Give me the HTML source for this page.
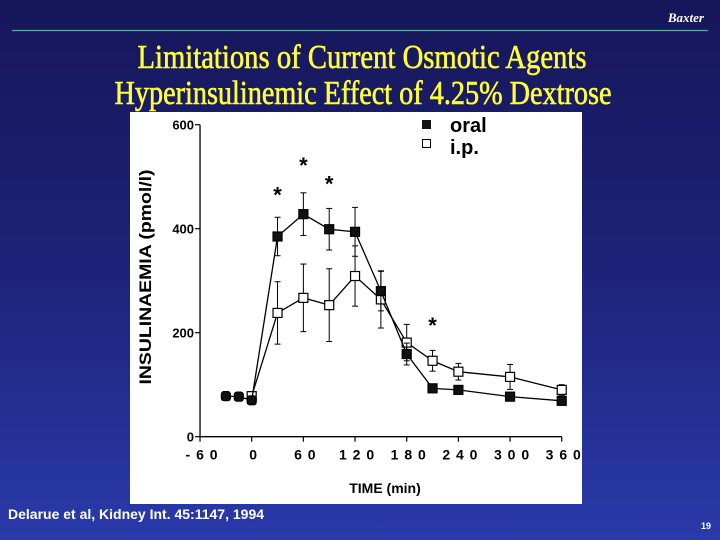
<!DOCTYPE html>
<html><head><meta charset="utf-8"><style>
html,body{margin:0;padding:0;width:720px;height:540px;overflow:hidden}
body{background:linear-gradient(#16165a,#1d2378 50%,#2a3aaa);font-family:"Liberation Sans",sans-serif}
svg{display:block}
</style></head><body>
<svg id="s" width="720" height="540" viewBox="0 0 720 540">
<text x="704" y="22" text-anchor="end" fill="#fff" font-size="13" font-weight="bold" font-style="italic" font-family="Liberation Serif">Baxter</text>
<line x1="12" y1="30.5" x2="708" y2="30.5" stroke="#5fa8a0" stroke-width="1.2"/>
<text x="362" y="68" text-anchor="middle" fill="#ffff33" stroke="#ffff33" stroke-width="0.6" font-size="34" font-family="Liberation Serif" textLength="449" lengthAdjust="spacingAndGlyphs">Limitations of Current Osmotic Agents</text>
<text x="363" y="104" text-anchor="middle" fill="#ffff33" stroke="#ffff33" stroke-width="0.6" font-size="34" font-family="Liberation Serif" textLength="497" lengthAdjust="spacingAndGlyphs">Hyperinsulinemic Effect of 4.25% Dextrose</text>
<rect x="130" y="112" width="452" height="392" fill="#fff"/>
<g id="chart"></g>
<text x="8" y="519" fill="#fff" font-size="14" font-weight="bold">Delarue et al, Kidney Int. 45:1147, 1994</text>
<text x="711" y="529" text-anchor="end" fill="#fff" font-size="9" font-weight="bold">19</text>
</svg>
<script>
const oralX=[-30,-15,0,30,60,90,120,150,180,210,240,300,360];
const oralY=[78,77,70,385,428,399,394,280,159,93,90,77,69];
const oralErr=[0,0,0,37,41,40,47,38,21,0,8,0,0];
const ipX=[0,30,60,90,120,150,180,210,240,300,360];
const ipY=[78,238,267,253,309,264,181,146,125,115,90];
const ipErr=[0,60,65,70,58,55,35,20,16,24,10];
const starX=[30,60,90,210];
const starY=[472,528,493,221];
const xTicks=[-60,0,60,120,180,240,300,360];
const xTickLabels=["- 6 0","0","6 0","1 2 0","1 8 0","2 4 0","3 0 0","3 6 0"];
const yTicks=[0,200,400,600];

const NS="http://www.w3.org/2000/svg";
const g=document.getElementById('chart');
const X=v=>251.7+(v)*0.8612;
const Y=v=>436.7-v*0.52;
function el(t,a,parent){const e=document.createElementNS(NS,t);for(const k in a)e.setAttribute(k,a[k]);(parent||g).appendChild(e);return e;}
let e;
e=el('line',{x1:X(-60),y1:Y(0),x2:X(360),y2:Y(0),stroke:'#000','stroke-width':1.3});


e=el('line',{x1:X(-60),y1:Y(0),x2:X(-60),y2:Y(600),stroke:'#000','stroke-width':1.3});


xTicks.forEach((v,i)=>{
 el('line',{x1:X(v),y1:Y(0),x2:X(v),y2:Y(0)+5,stroke:'#000','stroke-width':1.2});
 e=el('text',{x:X(v)+2,y:Y(0)+23,'text-anchor':'middle','font-size':14,'font-weight':'bold',fill:'#000','letter-spacing':'1'});
 e.textContent=xTickLabels[i];
 
 
});
yTicks.forEach(v=>{
 el('line',{x1:X(-60)-5,y1:Y(v),x2:X(-60),y2:Y(v),stroke:'#000','stroke-width':1.2});
 e=el('text',{x:X(-60)-6,y:Y(v)+5,'text-anchor':'end','font-size':13,'font-weight':'bold',fill:'#000'});
 e.textContent=v;
 
 
});
e=el('text',{x:385,y:493,'text-anchor':'middle','font-size':14,'font-weight':'bold',fill:'#000'});
e.textContent='TIME  (min)';


e=el('text',{x:0,y:0,'text-anchor':'middle','font-size':17,'font-weight':'bold',fill:'#000',textLength:215,lengthAdjust:'spacingAndGlyphs',transform:'translate(151,277) rotate(-90)'});
e.textContent='INSULINAEMIA  (pmol/l)';


function series(xs,ys,errs,filled,name){
 xs.forEach((x,i)=>{if(errs[i]>0){
  const cx=X(x);
  e=el('line',{x1:cx,y1:Y(ys[i]-errs[i]),x2:cx,y2:Y(ys[i]+errs[i]),stroke:'#000','stroke-width':1});
  
  
  el('line',{x1:cx-3,y1:Y(ys[i]+errs[i]),x2:cx+3,y2:Y(ys[i]+errs[i]),stroke:'#000','stroke-width':1});
  el('line',{x1:cx-3,y1:Y(ys[i]-errs[i]),x2:cx+3,y2:Y(ys[i]-errs[i]),stroke:'#000','stroke-width':1});
 }});
 e=el('polyline',{points:xs.map((x,i)=>X(x)+','+Y(ys[i])).join(' '),fill:'none',stroke:'#000','stroke-width':1.3});
 
 
 xs.forEach((x,i)=>{
  e=el('rect',{x:X(x)-4.5,y:Y(ys[i])-4.5,width:9,height:9,rx:filled&&x<=0?2.5:0,fill:filled?'#111':'#fff',stroke:'#000','stroke-width':1.2});
  
  
 });
}
series(ipX,ipY,ipErr,false,'ip');
series(oralX,oralY,oralErr,true,'oral');
starX.forEach((x,i)=>{
 e=el('text',{x:X(x),y:Y(starY[i])+11,'text-anchor':'middle','font-size':22,'font-weight':'bold',fill:'#000'});
 e.textContent='*';
 
 
});
e=el('rect',{x:422,y:120,width:9,height:9,fill:'#111'});


e=el('text',{x:450,y:132,'font-size':20,'font-weight':'bold',fill:'#000'});
e.textContent='oral';


e=el('rect',{x:422.5,y:139.5,width:8,height:8,fill:'#fff',stroke:'#000','stroke-width':1});


e=el('text',{x:450,y:154,'font-size':20,'font-weight':'bold',fill:'#000'});
e.textContent='i.p.';


</script>
</body></html>
